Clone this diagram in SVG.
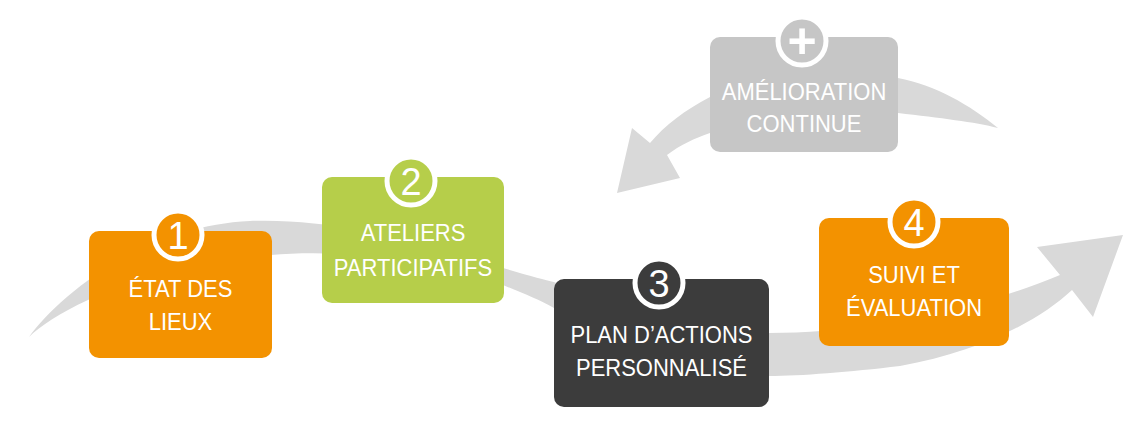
<svg xmlns="http://www.w3.org/2000/svg" width="1145" height="442" viewBox="0 0 1145 442">
<style>
.arrow{fill:#D9D9D9}
.lbl{font-family:"Liberation Sans",Arial,sans-serif;font-size:22px;fill:#fff;text-anchor:middle}
.num{font-family:"Liberation Sans",Arial,sans-serif;font-size:38px;fill:#fff;text-anchor:middle}
.plus{font-family:"Liberation Sans",Arial,sans-serif;font-size:50px;font-weight:bold;fill:#fff;text-anchor:middle}
.ring{stroke:#fff;stroke-width:5}
.orange{fill:#F39200}
.green{fill:#B6CE4A}
.dark{fill:#3C3C3C}
.grey{fill:#C6C6C6}
</style>
<rect width="1145" height="442" fill="#fff"/>
<g id="connectors">
<path class="arrow" d="M29 337 C55 300 140 226 250 221 C330 218 420 240 503 268 C530 276 545 280 554 282 C630 315 700 333 769 333 C850 333 950 320 1060 275 L1037 247 L1123 235 L1093 317 L1072 290 C1040 320 980 352 900 366 C850 372 800 376 769 376 C700 376 610 335 554 308 C540 300 520 292 503 285 C420 255 330 250 271 255 C200 262 120 285 88 300 C60 313 40 326 29 337 Z"/>
<path class="arrow" d="M998 128 C970 105 935 85 898 78 C830 65 750 75 710 97 C685 110 665 125 650 143 L632 128 L617 193 L680 178 L667 155 C680 145 695 138 710 133 C760 110 850 105 898 113 C940 118 975 122 998 128 Z"/>
</g>
<g id="node-1">
<rect class="orange" x="89" y="231" width="183" height="127" rx="10"/>
<circle class="orange ring" cx="178" cy="235" r="24"/>
<text class="num" x="178" y="249">1</text>
<text class="lbl" transform="translate(180.5,297) scale(1,1.12)">ÉTAT DES</text>
<text class="lbl" transform="translate(180.5,330) scale(1,1.12)">LIEUX</text>
</g>
<g id="node-2">
<rect class="green" x="322" y="177" width="182" height="126" rx="10"/>
<circle class="green ring" cx="411" cy="181" r="24"/>
<text class="num" x="411" y="195">2</text>
<text class="lbl" transform="translate(413,241) scale(1,1.12)">ATELIERS</text>
<text class="lbl" transform="translate(413,276) scale(1,1.12)">PARTICIPATIFS</text>
</g>
<g id="node-3">
<rect class="dark" x="554" y="279" width="215" height="128" rx="10"/>
<circle class="dark ring" cx="659" cy="283" r="24"/>
<text class="num" x="659" y="297">3</text>
<text class="lbl" transform="translate(661.5,343) scale(1,1.12)">PLAN D’ACTIONS</text>
<text class="lbl" transform="translate(661.5,376) scale(1,1.12)">PERSONNALISÉ</text>
</g>
<g id="node-4">
<rect class="orange" x="819" y="218" width="190" height="128" rx="10"/>
<circle class="orange ring" cx="914" cy="222" r="24"/>
<text class="num" x="914" y="236">4</text>
<text class="lbl" transform="translate(914,283) scale(1,1.12)">SUIVI ET</text>
<text class="lbl" transform="translate(914,316) scale(1,1.12)">ÉVALUATION</text>
</g>
<g id="node-improvement">
<rect class="grey" x="710" y="37" width="188" height="115" rx="10"/>
<circle class="grey ring" cx="802" cy="41" r="24"/>
<text class="plus" x="802" y="58">+</text>
<text class="lbl" transform="translate(804,100) scale(1,1.12)">AMÉLIORATION</text>
<text class="lbl" transform="translate(804,132) scale(1,1.12)">CONTINUE</text>
</g>
</svg>
